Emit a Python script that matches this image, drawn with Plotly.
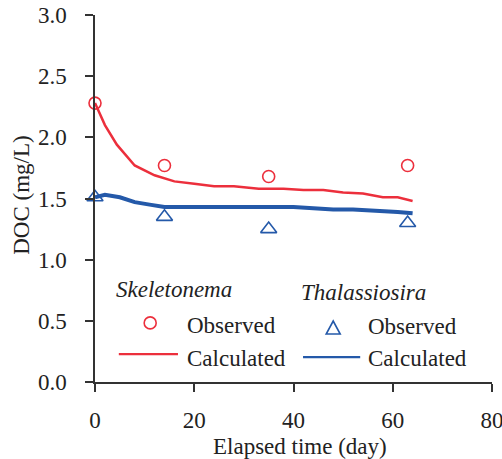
import plotly.graph_objects as go

# Observed DOC (mg/L) against elapsed time (day)
obs_days = [0, 14, 35, 63]
skel_obs = [2.28, 1.77, 1.68, 1.77]
thal_obs = [1.51, 1.35, 1.25, 1.30]

# Model curves
skel_calc_days = [0, 2, 4.4, 8, 12, 16, 20, 24, 28, 33, 38, 42, 46, 50, 54, 58, 61, 64]
skel_calc = [2.28, 2.10, 1.94, 1.77, 1.69, 1.64, 1.62, 1.60, 1.60, 1.58, 1.58, 1.57, 1.57, 1.55, 1.54, 1.51, 1.51, 1.48]
thal_calc_days = [0, 2, 5, 8, 11, 14, 20, 26, 32, 40, 44, 48, 52, 58, 61, 64]
thal_calc = [1.51, 1.53, 1.51, 1.47, 1.45, 1.43, 1.43, 1.43, 1.43, 1.43, 1.42, 1.41, 1.41, 1.40, 1.39, 1.38]

RED = "#EC2F3C"
BLUE = "#2459A9"
INK = "#222222"
FONT = "Liberation Serif, Times New Roman, serif"
FS = 23

fig = go.Figure()
fig.add_trace(go.Scatter(x=skel_calc_days, y=skel_calc, mode="lines",
                         line=dict(color=RED, width=2.5), cliponaxis=False))
fig.add_trace(go.Scatter(x=thal_calc_days, y=thal_calc, mode="lines",
                         line=dict(color=BLUE, width=4), cliponaxis=False))
fig.add_trace(go.Scatter(x=obs_days, y=skel_obs, mode="markers", cliponaxis=False,
                         marker=dict(symbol="circle-open", size=12, color=RED,
                                     line=dict(width=1.6, color=RED))))
fig.add_trace(go.Scatter(x=obs_days, y=thal_obs, mode="markers", cliponaxis=False,
                         marker=dict(symbol="triangle-up-open", size=14, color=BLUE,
                                     line=dict(width=1.6, color=BLUE))))

axis_common = dict(showgrid=False, zeroline=False, showline=True, linecolor="#333333",
                   linewidth=1.5, ticks="outside", ticklen=8, tickwidth=1.5, automargin=False,
                   ticklabeloverflow="allow",
                   tickcolor="#333333", tickfont=dict(family=FONT, size=FS, color=INK))

fig.update_xaxes(range=[0, 80], tickvals=[0, 20, 40, 60, 80], ticklabelstandoff=9, **axis_common)
fig.update_yaxes(range=[0, 3], tickvals=[0, 0.5, 1.0, 1.5, 2.0, 2.5, 3.0], tickformat=".1f",
                 ticklabelstandoff=14, **axis_common)

annotations = []
def label(text, x, y, italic=False, xanchor="left", angle=0):
    annotations.append(dict(xref="paper", yref="paper", x=x, y=y, xanchor=xanchor, yanchor="middle",
                            text=f"<i>{text}</i>" if italic else text, showarrow=False,
                            textangle=angle, font=dict(family=FONT, size=FS, color=INK)))

# Axis titles
label("Elapsed time (day)", 0.516, -0.177, xanchor="center")
label("DOC (mg/L)", -0.184, 0.51, xanchor="center", angle=-90)

# Hand-built two-column key
label("Skeletonema", 0.048, 0.251, italic=True)
label("Thalassiosira", 0.514, 0.243, italic=True)
label("Observed", 0.226, 0.153)
label("Calculated", 0.226, 0.065)
label("Observed", 0.682, 0.150)
label("Calculated", 0.682, 0.063)

shapes = [
    dict(type="circle", xref="paper", yref="paper", xsizemode="pixel", ysizemode="pixel",
         xanchor=0.139, yanchor=0.161, x0=-6, x1=6, y0=-6, y1=6,
         line=dict(color=RED, width=1.6)),
    dict(type="path", xref="paper", yref="paper", xsizemode="pixel", ysizemode="pixel",
         xanchor=0.600, yanchor=0.147, path="M -7,-6 L 7,-6 L 0,7 Z",
         line=dict(color=BLUE, width=1.6)),
    dict(type="line", xref="paper", yref="paper", x0=0.060, x1=0.209, y0=0.076, y1=0.076,
         line=dict(color=RED, width=2.2)),
    dict(type="line", xref="paper", yref="paper", x0=0.524, x1=0.668, y0=0.068, y1=0.068,
         line=dict(color=BLUE, width=2.2)),
]

fig.update_layout(width=502, height=459, margin=dict(l=95, r=10, t=15, b=77),
                  paper_bgcolor="white", plot_bgcolor="white", showlegend=False,
                  annotations=annotations, shapes=shapes,
                  font=dict(family=FONT, size=FS))

fig.write_html("out.html")
